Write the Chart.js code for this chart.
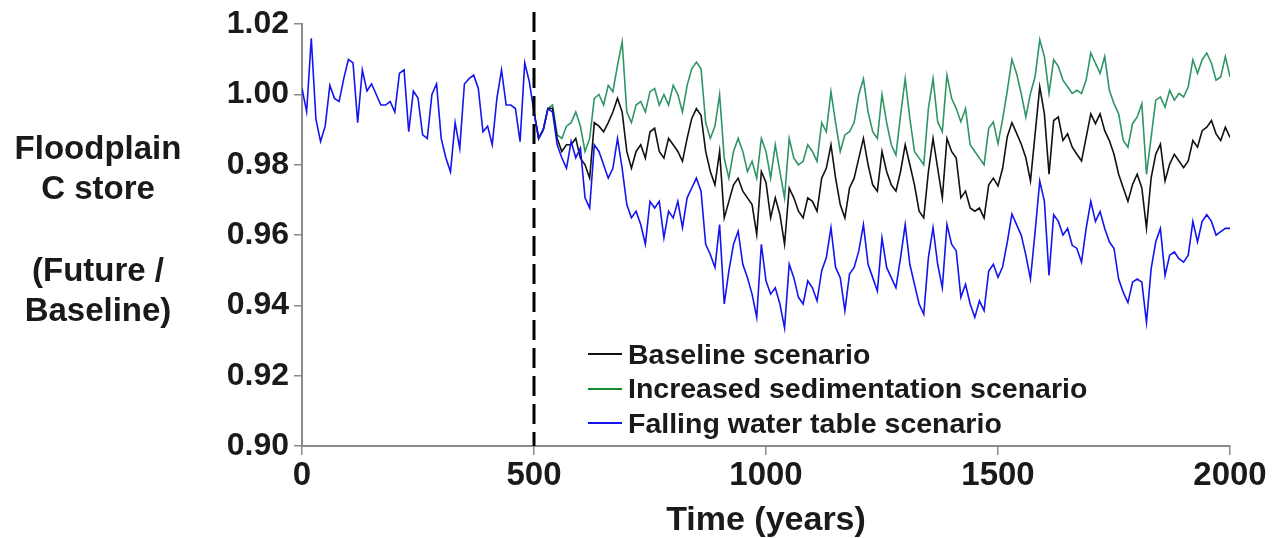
<!DOCTYPE html>
<html>
<head>
<meta charset="utf-8">
<script src="https://cdn.jsdelivr.net/npm/chart.js@4.4.1/dist/chart.umd.min.js"></script>
<style>
  body { margin: 0; background: #fff; }
  #wrap { position: relative; width: 1274px; height: 538px; }
  #ytitle {
    position: absolute; left: 0; top: 128px; width: 196px; text-align: center;
    font: bold 33px "Liberation Sans", Arial, sans-serif; color: #1a1a1a; line-height: 40px;
  }
  #legend {
    position: absolute; left: 588px; top: 337px;
    font: bold 28.5px "Liberation Sans", Arial, sans-serif; color: #1a1a1a;
  }
  .row { height: 34.5px; display: flex; align-items: center; white-space: nowrap; }
  .swatch { width: 34px; height: 2px; margin-right: 6px; }
</style>
</head>
<body>
<div id="wrap">
  <canvas id="chart" width="1274" height="538"></canvas>
  <div id="ytitle">Floodplain<br>C store<br><div style="height:42px"></div>(Future /<br>Baseline)</div>
  <div id="legend"></div>
</div>
<script>
// values, one per 10 years
const blueValues = [
  1.0017, 0.9951, 1.016, 0.993, 0.9866, 0.991, 1.0026, 0.9989, 0.998, 1.0045,
  1.010, 1.009, 0.992, 1.007, 1.001, 1.003, 1.000, 0.997, 0.997, 0.998,
  0.995, 1.006, 1.007, 0.9894, 1.001, 0.999, 0.9885, 0.9875, 1.000, 1.003,
  0.9875, 0.982, 0.978, 0.992, 0.9847, 1.003, 1.0045, 1.0055, 1.0017, 0.9894,
  0.991, 0.9857, 0.9989, 1.007, 0.997, 0.997, 0.996, 0.9866, 1.009, 1.0036,
  0.995, 0.9875, 0.990, 0.996, 0.995, 0.9857, 0.982, 0.979, 0.9866, 0.982,
  0.9847, 0.9706, 0.9677, 0.9857, 0.9838, 0.980, 0.9762, 0.979, 0.9875, 0.979,
  0.9687, 0.9649, 0.9668, 0.963, 0.9574, 0.9696, 0.9677, 0.9696, 0.9592, 0.9668,
  0.9649, 0.9696, 0.9621, 0.9706, 0.9734, 0.9762, 0.9725, 0.9574, 0.9545, 0.9508,
  0.963, 0.9404, 0.9498, 0.9574, 0.9611, 0.9517, 0.9479, 0.9432, 0.9366, 0.9574,
  0.947, 0.9432, 0.945, 0.9404, 0.9336, 0.9517, 0.9479, 0.9423, 0.9404, 0.947,
  0.945, 0.9413, 0.9498, 0.9536, 0.9621, 0.9508, 0.9479, 0.9385, 0.9489, 0.9508,
  0.9555, 0.963, 0.9517, 0.9479, 0.9441, 0.9592, 0.9508, 0.9479, 0.945, 0.9536,
  0.963, 0.9517, 0.946, 0.9404, 0.9375, 0.9536, 0.9621, 0.9517, 0.945, 0.963,
  0.9574, 0.9555, 0.9423, 0.946, 0.9404, 0.9366, 0.9413, 0.9385, 0.9498, 0.9517,
  0.948, 0.951, 0.958, 0.966, 0.963, 0.960, 0.9543, 0.9475, 0.961, 0.9754,
  0.9696, 0.9485, 0.9658, 0.9639, 0.960, 0.9619, 0.9571, 0.9562, 0.9523, 0.9619,
  0.9696, 0.9639, 0.9667, 0.9619, 0.9581, 0.9562, 0.9475, 0.9437, 0.9408, 0.9466,
  0.9475, 0.9466, 0.9351, 0.9504, 0.9581, 0.9619, 0.9485, 0.9543, 0.9552, 0.9533,
  0.9523, 0.9543, 0.9639, 0.9581, 0.9639, 0.9658, 0.9639, 0.960, 0.961, 0.9619,
  0.9619
];

// year 500 onwards
const greenValues = [
  0.995, 0.9875, 0.990, 0.996, 0.997, 0.9885, 0.9875, 0.991, 0.992, 0.995,
  0.991, 0.9838, 0.9875, 0.9989, 1.000, 0.997, 1.0026, 1.0008, 1.0083, 1.015,
  0.995, 0.992, 0.997, 0.998, 0.995, 1.0008, 1.0017, 0.997, 1.000, 0.997,
  1.0026, 1.000, 0.995, 1.0026, 1.0073, 1.0092, 1.0073, 0.992, 0.9875, 0.991,
  1.000, 0.9819, 0.9762, 0.9838, 0.9875, 0.9838, 0.9781, 0.981, 0.9762, 0.9875,
  0.9838, 0.9762, 0.9857, 0.978, 0.9706, 0.9875, 0.9819, 0.980, 0.981, 0.9857,
  0.9838, 0.981, 0.992, 0.9894, 1.0008, 0.992, 0.9838, 0.9885, 0.9894, 0.992,
  1.000, 1.0045, 0.995, 0.9894, 0.9875, 1.000, 0.992, 0.9857, 0.9828, 0.9941,
  1.0045, 0.9932, 0.9838, 0.9819, 0.980, 0.996, 1.0045, 0.9922, 0.9894, 1.0055,
  0.9989, 0.996, 0.9922, 0.996, 0.9857, 0.9838, 0.9819, 0.980, 0.9904, 0.9922,
  0.986, 0.993, 1.001, 1.010, 1.006, 1.0003, 0.9936, 1.0003, 1.0051, 1.0156,
  1.0108, 1.0003, 1.0099, 1.008, 1.0041, 1.0022, 1.0003, 1.0012, 1.0003, 1.0041,
  1.0118, 1.0089, 1.006, 1.0108, 1.0012, 0.9974, 0.9945, 0.9869, 0.985, 0.9917,
  0.9936, 0.9974, 0.9773, 0.9878, 0.9984, 0.9993, 0.9964, 1.0012, 0.9984, 1.0003,
  0.9993, 1.0022, 1.0099, 1.006, 1.0099, 1.0118, 1.0089, 1.0041, 1.005, 1.0108,
  1.005
];

const blackValues = [
  0.995, 0.9875, 0.990, 0.996, 0.996, 0.9875, 0.9838, 0.9857, 0.9857, 0.9875,
  0.9819, 0.980, 0.9762, 0.992, 0.991, 0.9894, 0.992, 0.995, 0.9989, 0.995,
  0.9838, 0.979, 0.9838, 0.9857, 0.9819, 0.9894, 0.9904, 0.9838, 0.9819, 0.9875,
  0.9857, 0.9838, 0.981, 0.9875, 0.9932, 0.996, 0.9941, 0.9838, 0.9781, 0.9743,
  0.9838, 0.9649, 0.9696, 0.9743, 0.9762, 0.9725, 0.9706, 0.9687, 0.9602, 0.9781,
  0.975, 0.9649, 0.9706, 0.9658, 0.9574, 0.9734, 0.9706, 0.9668, 0.9649, 0.9706,
  0.9696, 0.9668, 0.9762, 0.979, 0.9857, 0.9762, 0.9687, 0.9649, 0.9734, 0.9762,
  0.9819, 0.9875, 0.980, 0.9743, 0.9725, 0.9838, 0.9781, 0.9743, 0.9725, 0.9781,
  0.9857, 0.980, 0.9743, 0.9668, 0.9649, 0.9781, 0.9875, 0.979, 0.9706, 0.9875,
  0.9838, 0.9819, 0.9706, 0.9725, 0.9677, 0.9668, 0.9677, 0.9649, 0.9743, 0.9762,
  0.974, 0.979, 0.988, 0.992, 0.989, 0.9859, 0.982, 0.9754, 0.9888, 1.0022,
  0.9945, 0.9773, 0.9926, 0.9936, 0.9869, 0.9888, 0.985, 0.983, 0.9811, 0.9878,
  0.9945, 0.9917, 0.9945, 0.9897, 0.9869, 0.983, 0.9773, 0.9734, 0.9696, 0.9744,
  0.9773, 0.9734, 0.962, 0.9763, 0.983, 0.9859, 0.9754, 0.9802, 0.983, 0.9811,
  0.9792, 0.9811, 0.9869, 0.985, 0.9897, 0.9907, 0.9926, 0.9888, 0.9869, 0.9907,
  0.9878
];

const xTicks = [0, 500, 1000, 1500, 2000];
const yTicks = [0.90, 0.92, 0.94, 0.96, 0.98, 1.00, 1.02];
const changeYear = 500;
const seriesNames = ["Baseline scenario", "Increased sedimentation scenario", "Falling water table scenario"];
const seriesColors = ["#111111", "#2f9565", "#1414f0"];

function toPoints(values, startYear) {
  return values.map((v, i) => ({ x: startYear + i * 10, y: v }));
}

// vertical dashed marker at year 500
const dashedLine = {
  id: "dashedLine",
  afterDatasetsDraw(chart) {
    const ctx = chart.ctx;
    const x = chart.scales.x.getPixelForValue(changeYear);
    ctx.save();
    ctx.strokeStyle = "#000";
    ctx.lineWidth = 3;
    ctx.setLineDash([20, 8]);
    ctx.beginPath();
    ctx.moveTo(x, 12);
    ctx.lineTo(x, chart.chartArea.bottom);
    ctx.stroke();
    ctx.restore();
  }
};

const legendBox = document.getElementById("legend");
seriesNames.forEach((name, i) => {
  const row = document.createElement("div");
  row.className = "row";
  row.innerHTML = '<div class="swatch" style="background:' + (i == 1 ? "#168a2e" : seriesColors[i]) + '"></div>' + name;
  legendBox.appendChild(row);
});

const ctx = document.getElementById("chart").getContext("2d");
new Chart(ctx, {
  type: "line",
  data: {
    datasets: [
      { label: seriesNames[2], data: toPoints(blueValues, 0), borderColor: seriesColors[2], order: 0 },
      { label: seriesNames[0], data: toPoints(blackValues, 500), borderColor: seriesColors[0], order: 1 },
      { label: seriesNames[1], data: toPoints(greenValues, 500), borderColor: seriesColors[1], order: 2 },
    ],
  },
  options: {
    responsive: false,
    animation: false,
    layout: { padding: { top: 22, right: 44, left: 0, bottom: 0 } },
    elements: {
      point: { radius: 0 },
      line: { borderWidth: 1.6, tension: 0 },
    },
    plugins: { legend: { display: false }, tooltip: { enabled: false } },
    scales: {
      x: {
        type: "linear",
        min: 0,
        max: 2000,
        afterFit: (scale) => { scale.height = 92; },
        afterBuildTicks: (scale) => { scale.ticks = xTicks.map((v) => ({ value: v })); },
        border: { color: "#8a8a8a", width: 2 },
        grid: { drawOnChartArea: false, color: "#8a8a8a", tickLength: 9, lineWidth: 1.5 },
        ticks: {
          color: "#1a1a1a",
          padding: 1,
          maxRotation: 0,
          font: { family: "'Liberation Sans', Arial", size: 33, weight: "bold" },
          callback: (v) => String(v),
        },
        title: {
          display: true,
          text: "Time (years)",
          color: "#1a1a1a",
          padding: 0,
          font: { family: "'Liberation Sans', Arial", size: 34, weight: "bold", lineHeight: 1 },
        },
      },
      y: {
        min: 0.9,
        max: 1.02,
        afterFit: (scale) => { scale.width = 302; },
        afterBuildTicks: (scale) => { scale.ticks = yTicks.map((v) => ({ value: v })); },
        border: { color: "#8a8a8a", width: 2 },
        grid: { drawOnChartArea: false, color: "#8a8a8a", tickLength: 8, lineWidth: 1.5 },
        ticks: {
          color: "#1a1a1a",
          padding: 5,
          font: { family: "'Liberation Sans', Arial", size: 32, weight: "bold" },
          callback: (v) => v.toFixed(2),
        },
      },
    },
  },
  plugins: [dashedLine],
});
</script>
</body>
</html>
